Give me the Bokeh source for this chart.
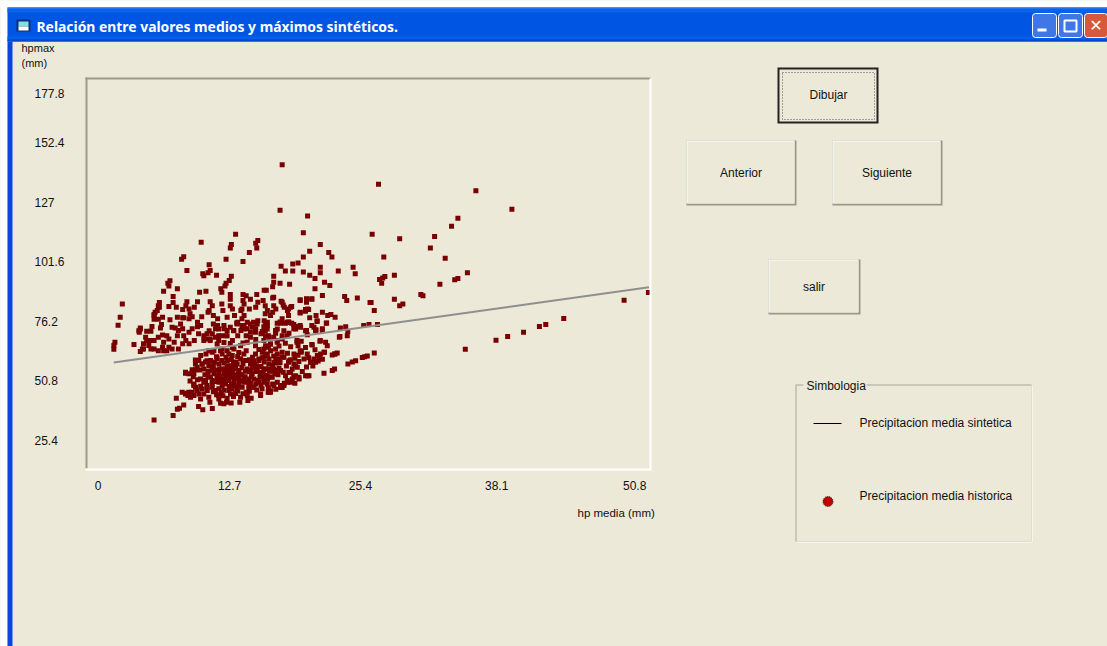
from bokeh.embed import file_html
from bokeh.resources import INLINE
from bokeh.plotting import figure
from bokeh.models import Range1d, FixedTicker
from bokeh.core.properties import value

TITLE = "Relación entre valores medios y máximos sintéticos."
X_LABEL = "hp media (mm)"
Y_LABEL = ["hpmax", "(mm)"]
X_TICKS = [0.0, 12.43, 24.8, 37.66, 50.7]
X_TICK_LABELS = ["0", "12.7", "25.4", "38.1", "50.8"]
Y_TICKS = [25.4, 51.0, 76.2, 101.8, 127.0, 152.2, 173.5]
Y_TICK_LABELS = ["25.4\u00a0\u00a0", "50.8\u00a0\u00a0", "76.2\u00a0\u00a0", "101.6", "127\u00a0\u00a0\u00a0", "152.4", "177.8"]
LEGEND_TITLE = "Simbologia"
LEGEND_LINE = "Precipitacion media sintetica"
LEGEND_DOT = "Precipitacion media historica"
BUTTONS = ["Dibujar", "Anterior", "Siguiente", "salir"]

sint_x = [1.49, 25.75, 52.05]
sint_y = [58.7, 74.2, 90.8]

hist_outliers = [
 (26.5,134.8),(35.7,132.0),(39.1,124.1),(34.0,120.3),(33.4,116.9),(25.9,113.5),(28.5,111.5),(31.8,112.5),
 (31.4,107.6),(32.8,103.2),(27.0,103.8),(34.9,97.0),(34.0,94.6),(33.7,94.0),(32.3,92.1),(28.0,96.0),
 (27.1,95.4),(26.9,94.8),(26.6,94.1),(26.8,92.5),(28.0,85.7),(30.5,87.7),(30.7,87.2),(28.8,83.7),(28.5,82.9),
 (25.8,84.3),(26.1,80.9),(49.7,85.3),(52.0,88.6),(44.0,77.5),(42.3,75.0),(41.7,74.1),(40.2,71.6),(38.7,69.8),
 (37.6,68.2),(34.7,64.4),(26.1,62.8),(5.3,34.2),(7.1,36.1),(7.5,38.8),(7.7,39.2),(8.1,40.6),(7.4,43.5),
 (9.5,40.0),(9.9,38.6),(10.8,39.1),
]
hist_upper = [
 (17.4,143.1),(17.2,123.7),(19.8,121.3),(19.4,114.1),(13.0,113.5),(9.75,110.0),(15.1,110.8),(14.9,109.6),
 (12.6,109.1),(12.5,107.6),(15.0,107.6),(14.3,105.7),(8.1,103.9),(7.9,102.8),(12.1,102.8),(13.7,101.8),
 (21.0,109.1),(21.8,105.7),(22.1,103.8),(20.0,106.2),(19.4,103.8),(10.5,100.4),(8.4,98.0),(10.6,98.0),
 (10.4,97.0),(9.9,96.6),(10.0,95.8),(11.2,96.0),(17.3,99.8),(18.4,100.8),(18.9,101.2),(17.7,97.8),(18.4,97.8),
 (19.4,97.4),(20.0,96.0),(20.5,94.6),(21.0,99.4),(21.0,97.0),(22.7,97.8),(24.1,99.4),(24.3,96.6),(16.6,95.5),
 (16.6,93.0),(16.5,91.1),(17.2,92.5),(18.1,92.1),(12.6,95.5),(12.4,93.7),(12.1,92.5),(12.0,91.4),(11.6,90.2),
 (11.7,88.7),(6.8,93.6),(6.6,92.5),(6.7,91.4),(7.5,90.2),(6.2,89.1),(9.6,88.7),(10.2,89.1),(7.1,86.9),(7.1,84.3),
 (5.8,84.3),(5.8,82.3),(5.4,80.2),(5.3,78.8),(2.3,83.7),(2.1,78.0),(1.9,74.6),(1.6,67.4),(1.5,66.0),(1.5,64.4),
 (3.4,66.4),(23.3,86.9),(23.5,85.2),(24.5,86.3),(25.7,84.3),(21.2,87.3),(21.4,93.0),(21.9,91.6),(20.5,90.2),
 (19.1,85.2),(19.7,85.7),(20.2,85.7),(19.1,79.9),(19.6,81.3),(19.9,81.3),(13.7,87.7),(14.0,87.2),(14.4,85.7),
 (15.0,87.7),(15.7,89.6),(15.9,89.6),(12.5,87.7),(12.5,85.7),(13.7,85.2),(16.5,86.3),(17.3,84.9),(17.5,83.3),
 (18.2,82.3),(17.9,80.9),
]
hist_middle = [
 (11.7,83.7),(12.5,83.0),(12.7,81.6),(11.8,80.9),(12.2,78.0),(12.9,78.8),(13.1,75.6),(13.6,81.6),(13.8,83.7),
 (13.5,80.9),(13.8,78.8),(13.6,77.4),(14.3,81.6),(14.9,82.3),(15.1,84.4),(15.6,85.2),(15.8,83.0),(16.0,80.9),
 (15.8,79.5),(16.6,83.0),(16.8,81.6),(16.5,80.2),(16.3,78.8),(17.4,84.4),(17.6,82.3),(18.0,81.6),(18.3,82.6),
 (17.4,77.4),(17.2,76.0),(16.6,86.6),(19.1,85.5),(19.7,85.9),(20.2,85.9),(19.7,84.4),(19.1,80.2),(19.8,81.6),
 (19.6,80.6),(20.0,77.8),(20.6,78.8),(20.7,76.6),(21.2,80.2),(21.7,78.8),(22.0,79.2),(22.4,78.0),(21.6,75.6),
 (18.0,78.8),(18.0,76.0),(17.7,75.5),(18.3,75.5),(18.9,74.1),(18.5,73.1),(19.1,74.5),(19.7,72.4),(20.2,74.5),
 (20.6,72.7),(21.2,73.1),(21.0,68.1),(21.4,63.1),(20.2,66.4),(19.2,63.1),(18.8,67.4),(22.4,62.4),(22.8,69.5),
 (6.7,82.6),(7.4,82.3),(8.0,81.3),(8.4,84.7),(8.3,83.0),(9.4,84.7),(10.6,84.7),(10.8,83.0),(10.5,80.9),(10.4,80.2),
 (8.6,81.6),(9.1,82.3),(8.7,79.5),(8.6,77.4),(8.1,77.8),(8.9,78.3),(5.7,83.0),(5.6,80.9),(5.3,79.2),(5.3,77.2),
 (5.7,77.2),(6.1,78.0),(6.8,77.0),(7.5,78.0),(8.0,77.8),(9.8,78.3),(9.4,75.9),(9.4,74.0),(10.9,78.8),(11.3,77.4),
 (6.0,74.9),(5.9,73.5),(5.1,74.1),(5.0,72.1),(4.6,72.1),(4.0,73.0),(3.9,71.6),(7.0,73.8),(7.3,73.5),(7.8,75.2),
 (7.6,72.4),(7.5,70.2),(8.0,73.1),(4.5,69.5),(4.6,68.1),(4.3,66.7),(5.0,68.1),(5.3,68.1),(4.8,66.0),(4.2,64.5),
 (4.3,64.5),(4.0,63.4),(5.0,64.5),(5.3,64.5),(5.7,69.5),(6.1,70.5),(6.5,70.2),(6.7,68.8),(6.2,67.4),(6.1,65.2),
 (5.7,63.8),(6.2,63.8),(6.7,65.2),(7.2,67.4),(7.0,64.5),(6.5,63.8),(8.1,70.2),(8.6,71.6),(8.9,73.1),(8.3,68.1),
 (8.0,66.7),(7.6,64.5),(8.6,66.7),(9.1,68.1),(9.5,71.0),(10.0,70.2),(10.3,71.0),(10.2,68.8),(10.8,71.0),(11.1,73.1),
 (11.3,74.5),(10.9,75.2),(10.6,68.1),(11.1,69.5),(11.4,68.1),(11.9,73.1),(12.2,72.4),(11.7,70.2),(12.1,70.2),
 (12.8,72.4),(13.2,75.9),(13.5,72.4),(13.8,74.5),(14.1,73.1),(14.4,75.2),(14.7,75.9),(14.9,73.1),(14.4,71.6),
 (14.0,70.2),(15.1,76.6),(15.7,76.6),(16.0,74.5),(15.8,72.4),(15.4,71.0),(16.1,70.2),(16.8,72.4),(16.6,69.5),
 (13.2,70.2),(12.7,68.1),(3.86,72.3),(4.0,73.5),(13.15,75.2),(14.1,75.9),(15.04,75.2),(16.0,75.9),(13.6,74.5),
 (14.6,73.8),(15.67,74.0),(16.93,75.5),(17.9,75.9),(18.5,74.9),(12.5,73.8),(12.84,72.3),(13.8,73.0),(14.88,71.6),
 (15.83,70.2),(16.77,72.3),(17.56,72.3),(15.67,68.1),(14.4,69.5),(9.7,74.5),(10.5,72.3),(11.4,73.0),(11.9,74.5),
 (11.4,70.2),(12.2,70.2),(10.6,68.8),(10.0,68.1),
]
hist_lower = [
 (7.95,46.0),(8.27,45.6),(8.49,44.6),(8.74,43.9),(9.06,44.6),(8.9,46.0),(9.21,48.2),(9.06,49.6),(9.53,45.3),
 (9.69,43.2),(9.37,46.8),(10.0,45.3),(10.32,46.8),(10.47,43.9),(10.57,41.8),(10.79,48.2),(11.1,46.8),(11.42,47.5),
 (11.64,46.0),(11.42,43.2),(11.58,41.3),(11.89,41.1),(12.14,41.8),(12.58,41.5),(12.52,45.3),(12.36,46.8),
 (12.05,49.6),(11.73,48.9),(12.68,47.5),(13.15,47.5),(13.62,48.2),(13.47,43.9),(13.4,41.8),(14.1,44.6),(14.16,42.5),
 (14.47,43.5),(15.36,45.1),(16.08,46.0),(14.25,47.5),(14.73,48.2),(8.27,54.6),(8.58,53.9),(8.9,55.6),(9.06,53.9),
 (9.21,55.6),(9.21,58.1),(9.53,59.6),(9.84,58.1),(10.16,58.9),(10.0,56.0),(10.47,57.4),(10.63,59.6),(10.79,63.1),
 (10.47,63.8),(9.69,51.7),(10.16,51.0),(10.63,52.4),(10.79,49.6),(11.26,51.7),(10.95,53.9),(11.42,54.6),(11.89,53.9),
 (11.73,56.0),(11.42,58.1),(11.26,60.3),(11.73,62.4),(11.58,63.8),(12.21,59.6),(12.52,57.4),(12.36,62.4),(12.68,61.7),
 (12.05,56.0),(12.52,53.9),(12.99,53.2),(13.31,54.6),(12.84,56.0),(13.15,58.1),(13.47,60.3),(13.78,62.4),(13.94,59.6),
 (14.41,58.1),(14.1,56.0),(14.57,53.9),(15.04,56.0),(15.36,54.6),(15.83,56.0),(16.14,58.1),(15.2,59.6),(14.88,62.4),
 (15.67,61.0),(14.73,51.7),(15.2,50.3),(15.67,51.7),(15.99,49.6),(14.25,51.7),(13.78,50.3),(13.31,51.0),(12.84,50.3),
 (12.36,51.0),(11.89,51.7),(11.42,50.3),(12.0,53.0),(12.3,55.0),(12.7,55.2),(13.0,56.8),(13.3,52.5),(13.6,53.5),
 (13.9,55.0),(14.3,54.8),(14.6,56.5),(14.8,58.0),(13.6,56.6),(13.0,59.0),(12.6,60.0),(12.1,61.0),(11.9,58.5),(11.5,56.0),
 (11.1,55.5),(10.9,57.0),(11.0,59.0),(10.4,55.0),(10.1,53.5),(9.6,55.5),(15.4,57.0),(15.3,52.5),(15.8,53.3),(16.2,55.0),
 (16.4,52.5),(16.6,56.0),(16.8,58.5),(17.0,53.5),(13.0,45.5),(13.3,49.0),(12.9,48.8),(14.0,46.0),(14.4,49.8),(15.0,47.0),
 (15.5,47.5),(10.3,48.0),(11.2,45.0),(11.8,44.5),(12.2,43.5),
 (9.2,59.8),(9.7,61.7),(10.2,62.4),(10.95,63.8),(11.26,66.6),(11.73,64.5),(12.2,63.8),(12.84,64.5),(13.47,65.9),(14.1,67.4),
 (14.88,65.9),(15.67,64.5),(16.3,66.6),(16.93,67.4),(17.4,68.8),(17.88,70.2),(8.27,54.1),(8.9,54.5),(9.37,56.7),(9.84,58.1),
 (10.3,59.5),(10.63,57.4),(12.84,53.1),(12.52,52.4),(13.3,55.3),(12.99,56.7),(12.52,55.3),(12.05,53.9),(11.58,51.0),(11.26,53.1),
 (10.79,51.0),(10.3,48.9),(9.84,47.4),(9.05,48.9),(8.58,46.0),(8.27,45.3),(14.7,59.5),(15.2,60.2),(16.0,61.7),(16.8,60.2),
 (17.4,61.0),(18.0,58.8),(18.66,57.4),(18.2,54.5),(18.5,52.4),(17.9,50.3),(17.25,48.9),(16.5,49.6),(16.0,51.7),(15.35,53.9),
 (14.4,55.3),(13.8,51.7),(14.25,48.9),(14.7,48.2),(15.35,45.3),(16.3,46.0),(17.4,48.1),(18.2,50.3),(19.0,51.7),(19.8,53.1),
 (20.9,61.0),(21.35,63.1),(20.1,58.8),(19.1,63.8),
]
hist_right = [
 (25.44,61.5),(25.19,61.2),(24.97,60.9),(24.34,59.5),(24.02,59.0),(23.61,58.1),(22.6,62.8),(22.35,62.4),(22.13,61.9),
 (22.35,56.0),(22.13,55.3),(21.35,54.1),(19.93,53.1),(19.61,53.1),(21.03,62.4),(20.72,61.7),(20.4,60.2),(20.09,58.8),
 (20.56,58.8),(19.77,62.4),(19.2,63.5),(18.51,62.4),(19.46,60.2),(18.98,59.2),(18.51,58.1),(18.04,59.5),(17.57,61.0),
 (17.09,60.2),(16.62,58.8),(16.15,60.2),(15.83,62.4),(15.52,63.1),(16.3,63.8),(16.94,62.4),(17.4,63.1),(18.83,56.7),
 (18.35,56.0),(18.04,54.5),(17.72,53.1),(18.67,53.1),(18.98,52.4),(18.35,51.7),(17.88,51.0),(17.57,48.9),(17.25,48.1),
 (16.94,50.3),(16.46,52.4),(15.99,51.7),(15.68,50.3),(16.62,48.9),(16.3,46.7),(16.15,46.0),(15.52,53.1),(15.36,44.6),
 (17.25,55.3),(16.78,55.3),(16.15,56.0),(15.68,56.0),(26.4,74.9),(25.6,74.9),(25.1,74.5),(23.4,74.0),(22.9,73.5),(23.6,72.0),
 (22.86,69.8),(23.55,70.2),(21.57,75.5),(20.7,76.2),(20.4,73.8),(20.56,72.3),(21.19,72.3),(21.5,67.4),(21.66,65.9),(20.97,67.8),
 (20.24,66.2),(19.2,67.8),(18.8,68.1),(19.61,72.3),(19.77,70.6),(19.14,73.8),(18.67,73.0),(18.04,71.2),(18.04,75.9),(17.25,75.5),
 (16.94,73.0),(16.78,71.2),(15.83,74.5),(15.99,73.0),(15.52,72.0),(17.4,70.2),(16.94,68.1),(16.3,66.6),(15.83,65.9),(16.78,64.5),
 (16.15,69.5),
]
hist_dense = [
 (11.1,50.6),(11.5,52.8),(11.9,50.2),(12.3,52.2),(12.6,49.4),(12.9,51.8),(13.2,53.6),(13.5,50.9),(13.9,52.6),(14.2,50.4),
 (14.5,52.7),(14.9,54.9),(15.1,51.1),(15.6,54.1),(16.0,52.9),(16.3,55.1),(16.7,53.9),(17.1,56.4),(17.5,54.6),(17.8,57.2),
 (18.2,59.9),(18.6,60.6),(17.2,58.7),(16.5,57.3),(15.7,58.9),(15.0,57.4),(14.3,59.9),(13.7,58.3),(13.2,61.3),(12.8,58.7),
 (12.2,57.3),(11.7,59.6),(11.2,61.2),(10.8,55.4),(10.4,53.2),(10.0,50.3),(9.7,48.6),(9.4,51.4),(9.0,52.6),(8.7,50.8),
 (10.9,46.3),(11.4,44.6),(11.9,46.9),(12.4,48.5),(12.8,44.2),(13.2,46.6),(13.7,45.4),(14.3,46.5),(14.9,49.6),(15.4,49.0),
 (16.1,47.9),(16.8,47.3),(17.6,49.9),(18.6,49.9),(19.3,54.9),(19.7,56.8),(20.3,57.2),(20.8,59.4),(21.2,60.1),(19.9,60.8),
 (18.9,61.8),(17.9,62.7),(16.6,61.5),(15.5,60.8),(14.6,61.0),(14.0,63.8),(13.3,63.0),(12.7,65.1),(15.2,64.3),(16.1,65.2),
 (17.1,65.8),(18.2,65.5),(18.9,65.9),(17.7,67.0),(19.6,65.1),(20.5,64.2),(13.7,67.1),(12.5,66.8),(11.9,67.3),(14.9,68.6),
]

hist = hist_outliers + hist_upper + hist_middle + hist_lower + hist_right + hist_dense
hist_x = [a for a, _ in hist]
hist_y = [b for _, b in hist]

FACE = "#ECE9D8"
FONT = "Liberation Sans"
W, H = 1107, 646

# window chrome, drawn in page pixels behind the chart
bg = figure(width=W, height=H, output_backend="svg", toolbar_location=None,
            x_range=Range1d(0, W), y_range=Range1d(H, 0),
            min_border_left=0, min_border_right=0, min_border_top=0, min_border_bottom=0,
            background_fill_color=FACE, border_fill_color=FACE, outline_line_color=None,
            x_axis_location=None, y_axis_location=None)
bg.grid.visible = False


def box(x0, y0, x1, y1, fill=None, line=None, dash="solid", lw=1, radius=0):
    bg.quad(left=[x0], right=[x1], top=[y0], bottom=[y1],
            fill_color=fill, fill_alpha=1 if fill else 0,
            line_color=line, line_alpha=1 if line else 0,
            line_dash=dash, line_width=lw, border_radius=radius)


def text(x, y, s, color="#111111", size="12px", align="left", style="normal", font=FONT):
    bg.text(x=[x], y=[y], text=[s], text_color=color, text_font=value(font), text_font_size=value(size),
            text_font_style=style, text_align=align, text_baseline="middle")


# page margin and title bar
box(0, 0, 1107, 7, fill="#FFFFFF")
box(0, 0, 7, 646, fill="#FFFFFF")
box(7, 7, 1107, 41, fill="#0056E2")
box(7, 7, 1107, 9, fill="#1E74F0")
box(7, 9, 1107, 12, fill="#0862EA")
box(7, 36, 1107, 39, fill="#0060EC")
box(7, 39, 1107, 41, fill="#0048D0")
box(7, 41, 12, 646, fill="#0A44E0")
box(16, 19, 30, 31, fill="#0B2F7A")
box(18, 21, 28, 26, fill="#7FE0E0")
box(18, 26, 28, 30, fill="#FFFFFF")
text(36, 26, TITLE, color="#FFFFFF", size="13.9px", style="bold", font="Noto Sans")
box(1032, 13, 1056, 37, fill="#3F78E6", line="#FFFFFF", radius=3)
box(1058, 13, 1082, 37, fill="#3F78E6", line="#FFFFFF", radius=3)
box(1084, 13, 1107, 37, fill="#D8593A", line="#FFFFFF", radius=3)
box(1037, 28, 1046, 31, fill="#FFFFFF")
box(1064, 20, 1076, 31, line="#FFFFFF", lw=2)
text(1095.5, 25, "✕", color="#FFFFFF", size="16px", align="center", style="bold", font="DejaVu Sans")

# plot border
box(85, 77, 87, 468, fill="#9D9A89")
box(85, 77, 650, 79, fill="#9D9A89")
box(649, 78, 651, 470, fill="#FFFFFF")
box(85, 468, 651, 470, fill="#FFFFFF")

text(21, 47, Y_LABEL[0], size="11px")
text(21, 62, Y_LABEL[1], size="11px")
text(577, 512, X_LABEL, size="11.5px")

# buttons
box(777, 67, 878, 123, fill="#222222")
box(779, 69, 876, 121, fill=FACE)
box(782, 72, 874, 119, line="#555555", dash="1 2")
for x0, y0, x1, y1 in [(686, 140, 796, 205), (832, 140, 942, 205), (768, 259, 860, 314)]:
    box(x0, y0, x1, y1, fill="#9A9787")
    box(x0, y0, x1 - 2, y1 - 2, fill="#FFFFFF")
    box(x0 + 1, y0 + 1, x1 - 2, y1 - 2, fill=FACE)
for (x, y), s in zip([(828, 94), (740.5, 172), (886.5, 172), (813.5, 286)], BUTTONS):
    text(x, y, s, align="center")

# legend
box(796, 385, 1032, 542, fill="#FFFFFF")
box(795, 384, 1031, 541, fill="#A8A698")
box(796, 385, 1031, 541, fill=FACE)
box(803, 380, 866, 390, fill=FACE)
text(806, 385, LEGEND_TITLE)
box(813, 422.5, 841, 423.5, fill="#000000")
bg.scatter([827.5], [501], marker="circle", size=10, fill_color="#C00000", line_color="#222222", line_dash="1 1")
text(859, 422, LEGEND_LINE)
text(859, 495, LEGEND_DOT)

# the chart itself, transparent, on top of the chrome
p = figure(width=W, height=H, output_backend="svg", toolbar_location=None,
           frame_width=562, frame_height=389,
           min_border_left=87, min_border_top=79, min_border_right=458, min_border_bottom=178,
           x_range=Range1d(-0.99, 52.1), y_range=Range1d(13.5, 179.5),
           background_fill_color=None, border_fill_color=None, outline_line_color=None)
p.styles = {"position": "absolute", "left": "0px", "top": "0px"}
p.grid.visible = False

for ax, ticks, labels in ((p.xaxis[0], X_TICKS, X_TICK_LABELS), (p.yaxis[0], Y_TICKS, Y_TICK_LABELS)):
    ax.ticker = FixedTicker(ticks=ticks)
    ax.major_label_overrides = dict(zip(ticks, labels))
    ax.axis_line_color = None
    ax.major_tick_line_color = None
    ax.minor_tick_line_color = None
    ax.major_label_text_font = FONT
    ax.major_label_text_font_size = "12px"
    ax.major_label_text_color = "#111111"
p.xaxis[0].major_label_standoff = 6
p.yaxis[0].major_label_standoff = 17

p.scatter(hist_x, hist_y, marker="square", size=5, color="#780000", line_color=None)
p.line(sint_x, sint_y, line_color="#8F8F8F", line_width=2)

open("out.html", "w").write(file_html([bg, p], INLINE))
